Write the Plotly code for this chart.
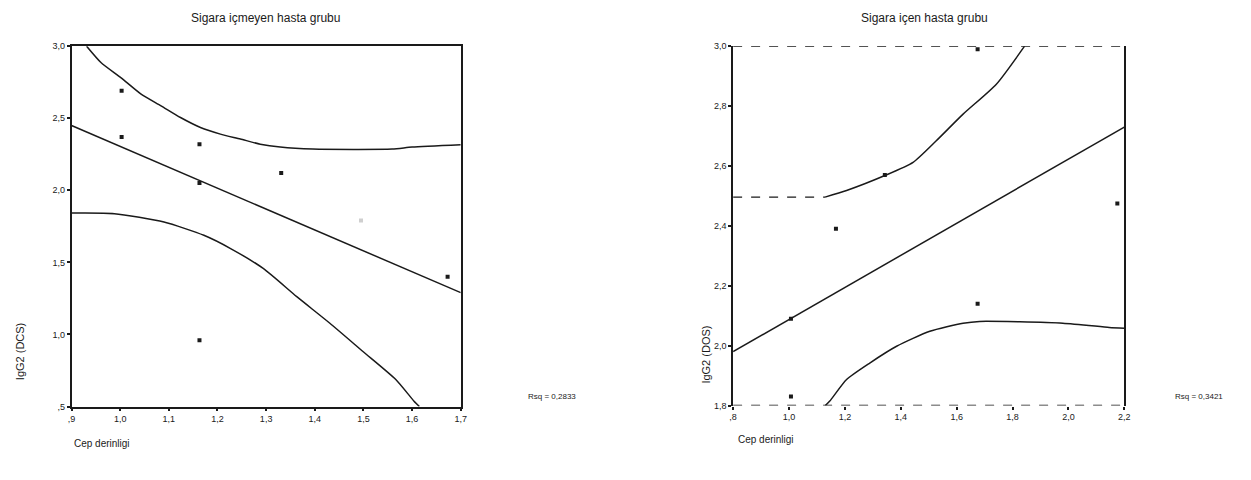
import plotly.graph_objects as go

# ---------------- Left panel: Sigara içmeyen ----------------
L_pts_x = [1.003, 1.003, 1.163, 1.163, 1.331, 1.673, 1.163]
L_pts_y = [2.69, 2.37, 2.32, 2.05, 2.12, 1.40, 0.96]
L_faint_x = [1.495]
L_faint_y = [1.79]

L_fit_x = [0.9, 1.7]
L_fit_y = [2.45, 1.29]

L_up_x = [0.931, 0.961, 1.002, 1.043, 1.084, 1.124, 1.165, 1.206, 1.247, 1.288, 1.329, 1.396, 1.559, 1.60, 1.7]
L_up_y = [3.0, 2.885, 2.78, 2.667, 2.586, 2.505, 2.436, 2.39, 2.356, 2.32, 2.30, 2.286, 2.286, 2.30, 2.316]

L_lo_x = [0.9, 0.988, 1.09, 1.172, 1.227, 1.294, 1.363, 1.431, 1.499, 1.567, 1.604, 1.615]
L_lo_y = [1.842, 1.838, 1.78, 1.688, 1.596, 1.458, 1.262, 1.078, 0.882, 0.686, 0.537, 0.5]

L_xticks = [0.9, 1.0, 1.1, 1.2, 1.3, 1.4, 1.5, 1.6, 1.7]
L_xtext = [",9", "1,0", "1,1", "1,2", "1,3", "1,4", "1,5", "1,6", "1,7"]
L_yticks = [0.5, 1.0, 1.5, 2.0, 2.5, 3.0]
L_ytext = [",5", "1,0", "1,5", "2,0", "2,5", "3,0"]

# ---------------- Right panel: Sigara içen ----------------
R_pts_x = [1.675, 1.168, 2.175, 1.675, 1.007, 1.007, 1.343]
R_pts_y = [2.99, 2.39, 2.475, 2.14, 1.83, 2.09, 2.57]

R_fit_x = [0.8, 2.2]
R_fit_y = [1.98, 2.73]

R_upflat_x = [0.8, 1.129]
R_upflat_y = [2.496, 2.496]
R_up_x = [1.129, 1.206, 1.343, 1.444, 1.527, 1.623, 1.742, 1.843]
R_up_y = [2.496, 2.518, 2.568, 2.612, 2.684, 2.773, 2.873, 3.0]

R_lo_x = [1.13, 1.146, 1.206, 1.289, 1.385, 1.504, 1.623, 1.682, 1.98, 2.146, 2.2]
R_lo_y = [1.8, 1.815, 1.887, 1.942, 1.998, 2.048, 2.075, 2.081, 2.075, 2.061, 2.058]

R_xticks = [0.8, 1.0, 1.2, 1.4, 1.6, 1.8, 2.0, 2.2]
R_xtext = [",8", "1,0", "1,2", "1,4", "1,6", "1,8", "2,0", "2,2"]
R_yticks = [1.8, 2.0, 2.2, 2.4, 2.6, 2.8, 3.0]
R_ytext = ["1,8", "2,0", "2,2", "2,4", "2,6", "2,8", "3,0"]

INK = "#1a1a1a"
FONT = "Liberation Sans, Arial, sans-serif"

# figure is sized to fit inside the window together with the page's 8px body margin
W, H, OFF = 1235, 464, 8
def PX(p):
    return (p - OFF) / W
def PY(p):
    return 1 - (p - OFF) / H

fig = go.Figure()

def line(x, y, xa, ya, dash="solid", w=1.5, shape="spline"):
    fig.add_trace(go.Scatter(x=x, y=y, mode="lines", xaxis=xa, yaxis=ya,
                             line=dict(color=INK, width=w, dash=dash, shape=shape, smoothing=0.6),
                             showlegend=False, hoverinfo="skip"))

def pts(x, y, xa, ya, color=INK):
    fig.add_trace(go.Scatter(x=x, y=y, mode="markers", xaxis=xa, yaxis=ya,
                             marker=dict(color=color, size=4, symbol="square"),
                             showlegend=False))

line(L_fit_x, L_fit_y, "x", "y", shape="linear")
line(L_up_x, L_up_y, "x", "y")
line(L_lo_x, L_lo_y, "x", "y")
pts(L_pts_x, L_pts_y, "x", "y")
pts(L_faint_x, L_faint_y, "x", "y", color="#cfcfcf")

line(R_fit_x, R_fit_y, "x2", "y2", shape="linear")
line(R_upflat_x, R_upflat_y, "x2", "y2", dash="dash", w=1.3, shape="linear")
line(R_up_x, R_up_y, "x2", "y2")
line(R_lo_x, R_lo_y, "x2", "y2")
pts(R_pts_x, R_pts_y, "x2", "y2")

tickfont = dict(family=FONT, size=9, color=INK)
common_ax = dict(showgrid=False, zeroline=False, ticks="outside", ticklen=3,
                 tickcolor=INK, tickwidth=1.5, tickfont=tickfont, linecolor=INK, linewidth=1.5)

fig.update_layout(
    width=W, height=H,
    margin=dict(l=0, r=0, t=0, b=0),
    paper_bgcolor="white", plot_bgcolor="white",
    xaxis=dict(domain=[PX(68), PX(460.4)], range=[0.9, 1.7], tickvals=L_xticks, ticktext=L_xtext,
               showline=True, mirror=True, anchor="y", **common_ax),
    yaxis=dict(domain=[PY(410.2), PY(41.9)], range=[0.5, 3.0], tickvals=L_yticks, ticktext=L_ytext,
               showline=True, mirror=True, anchor="x", **common_ax),
    xaxis2=dict(domain=[PX(735), PX(1129.4)], range=[0.8, 2.2], tickvals=R_xticks, ticktext=R_xtext,
                showline=False, anchor="y2", **common_ax),
    yaxis2=dict(domain=[PY(409.2), PY(41.9)], range=[1.8, 3.0], tickvals=R_yticks, ticktext=R_ytext,
                showline=True, mirror=True, anchor="x2", **common_ax),
    font=dict(family=FONT, color=INK),
)

# dashed top/bottom frame of right panel
for yv in (1.8, 3.0):
    fig.add_shape(type="line", xref="x2", yref="y2", x0=0.8, x1=2.2, y0=yv, y1=yv,
                  line=dict(color=INK, width=1.5, dash="dash"))

ann = [
    dict(text="Sigara içmeyen hasta grubu", x=264, y=13.5, size=12, angle=0),
    dict(text="Sigara içen hasta grubu", x=928, y=13.5, size=12, angle=0),
    dict(text="IgG2 (DCS)", x=15.7, y=354, size=11, angle=-90),
    dict(text="IgG2 (DOS)", x=707.8, y=357, size=11, angle=-90),
    dict(text="Cep derinligi", x=99.2, y=447.8, size=10, angle=0),
    dict(text="Cep derinligi", x=768.2, y=443.8, size=10, angle=0),
    dict(text="Rsq = 0,2833", x=552.9, y=400, size=8, angle=0),
    dict(text="Rsq = 0,3421", x=1204.8, y=400, size=8, angle=0),
]
for a in ann:
    fig.add_annotation(text=a["text"], xref="paper", yref="paper",
                       x=PX(a["x"]), y=PY(a["y"]), xanchor="center", yanchor="middle",
                       showarrow=False, textangle=a["angle"],
                       font=dict(family=FONT, size=a["size"], color=INK))

fig.write_html("out.html")
